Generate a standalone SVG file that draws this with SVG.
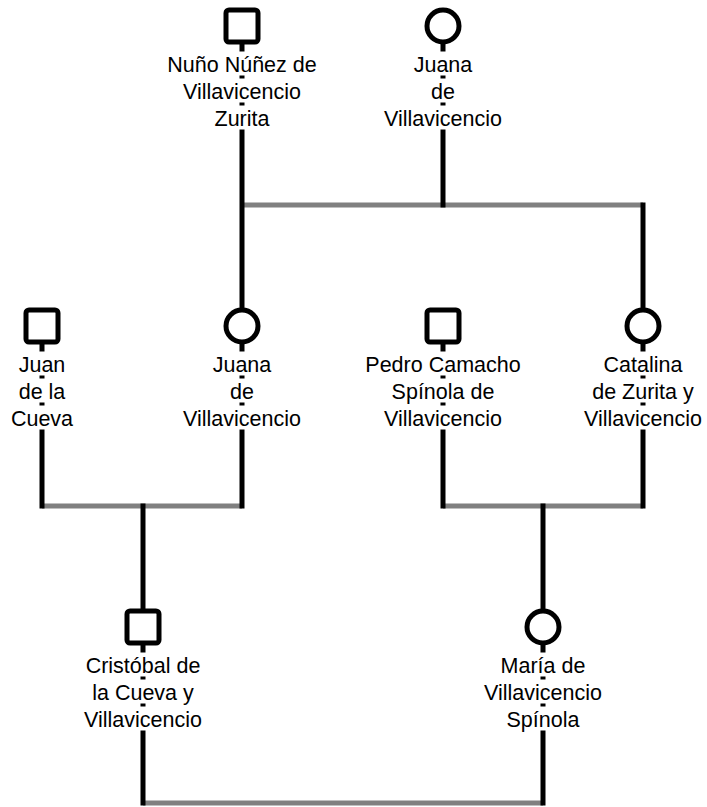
<svg xmlns="http://www.w3.org/2000/svg" width="707" height="807" viewBox="0 0 707 807">
<style>
.bg{fill:#ffffff}
.ln{stroke:#000000;stroke-width:5;fill:none}
.bar{stroke:#808080;stroke-width:5;fill:none}
.m{fill:#ffffff;stroke:#000000;stroke-width:5}
.f{fill:#ffffff;stroke:#000000;stroke-width:5}
.lb{fill:#ffffff}
.t{font-family:"Liberation Sans",Arial,sans-serif;font-size:21.5px;fill:#000000;text-anchor:middle}
</style>
<rect class="bg" x="0" y="0" width="707" height="807"/>
<g id="connectors">
<path class="bar" d="M242 205H643"/>
<path class="bar" d="M42 506H242"/>
<path class="bar" d="M443 506H643"/>
<path class="bar" d="M143 803H543"/>
<path class="ln" d="M242 26V326"/>
<path class="ln" d="M443 26V207.5"/>
<path class="ln" d="M643 202.5V326"/>
<path class="ln" d="M42 326V508.5"/>
<path class="ln" d="M242 326V508.5"/>
<path class="ln" d="M143 503.5V627"/>
<path class="ln" d="M443 326V508.5"/>
<path class="ln" d="M643 326V508.5"/>
<path class="ln" d="M543 503.5V627"/>
<path class="ln" d="M143 627V805.5"/>
<path class="ln" d="M543 627V805.5"/>
</g>
<g id="nuno">
<rect class="m" x="226" y="10" width="32" height="32" rx="3"/>
<rect class="lb" x="165.5" y="51.5" width="153" height="24"/>
<rect class="lb" x="181" y="78.5" width="122" height="24"/>
<rect class="lb" x="212.5" y="105.5" width="59" height="24"/>
<text class="t" x="242" y="72">Nuño Núñez de</text>
<text class="t" x="242" y="99">Villavicencio</text>
<text class="t" x="242" y="126">Zurita</text>
</g>
<g id="juana1">
<circle class="f" cx="443" cy="26" r="16"/>
<rect class="lb" x="412" y="51.5" width="62" height="24"/>
<rect class="lb" x="429" y="78.5" width="28" height="24"/>
<rect class="lb" x="382" y="105.5" width="122" height="24"/>
<text class="t" x="443" y="72">Juana</text>
<text class="t" x="443" y="99">de</text>
<text class="t" x="443" y="126">Villavicencio</text>
</g>
<g id="juan">
<rect class="m" x="26" y="310" width="32" height="32" rx="3"/>
<rect class="lb" x="17" y="351.5" width="50" height="24"/>
<rect class="lb" x="17" y="378.5" width="50" height="24"/>
<rect class="lb" x="9" y="405.5" width="66" height="24"/>
<text class="t" x="42" y="372">Juan</text>
<text class="t" x="42" y="399">de la</text>
<text class="t" x="42" y="426">Cueva</text>
</g>
<g id="juana2">
<circle class="f" cx="242" cy="326" r="16"/>
<rect class="lb" x="211" y="351.5" width="62" height="24"/>
<rect class="lb" x="228" y="378.5" width="28" height="24"/>
<rect class="lb" x="181" y="405.5" width="122" height="24"/>
<text class="t" x="242" y="372">Juana</text>
<text class="t" x="242" y="399">de</text>
<text class="t" x="242" y="426">Villavicencio</text>
</g>
<g id="pedro">
<rect class="m" x="427" y="310" width="32" height="32" rx="3"/>
<rect class="lb" x="363" y="351.5" width="160" height="24"/>
<rect class="lb" x="389.5" y="378.5" width="107" height="24"/>
<rect class="lb" x="382" y="405.5" width="122" height="24"/>
<text class="t" x="443" y="372">Pedro Camacho</text>
<text class="t" x="443" y="399">Spínola de</text>
<text class="t" x="443" y="426">Villavicencio</text>
</g>
<g id="catalina">
<circle class="f" cx="643" cy="326" r="16"/>
<rect class="lb" x="601.5" y="351.5" width="83" height="24"/>
<rect class="lb" x="590.5" y="378.5" width="105" height="24"/>
<rect class="lb" x="582" y="405.5" width="122" height="24"/>
<text class="t" x="643" y="372">Catalina</text>
<text class="t" x="643" y="399">de Zurita y</text>
<text class="t" x="643" y="426">Villavicencio</text>
</g>
<g id="cristobal">
<rect class="m" x="127" y="611" width="32" height="32" rx="3"/>
<rect class="lb" x="83.5" y="652.5" width="119" height="24"/>
<rect class="lb" x="90.5" y="679.5" width="105" height="24"/>
<rect class="lb" x="82" y="706.5" width="122" height="24"/>
<text class="t" x="143" y="673">Cristóbal de</text>
<text class="t" x="143" y="700">la Cueva y</text>
<text class="t" x="143" y="727">Villavicencio</text>
</g>
<g id="maria">
<circle class="f" cx="543" cy="627" r="16"/>
<rect class="lb" x="498.5" y="652.5" width="89" height="24"/>
<rect class="lb" x="482" y="679.5" width="122" height="24"/>
<rect class="lb" x="504.5" y="706.5" width="77" height="24"/>
<text class="t" x="543" y="673">María de</text>
<text class="t" x="543" y="700">Villavicencio</text>
<text class="t" x="543" y="727">Spínola</text>
</g>
</svg>
